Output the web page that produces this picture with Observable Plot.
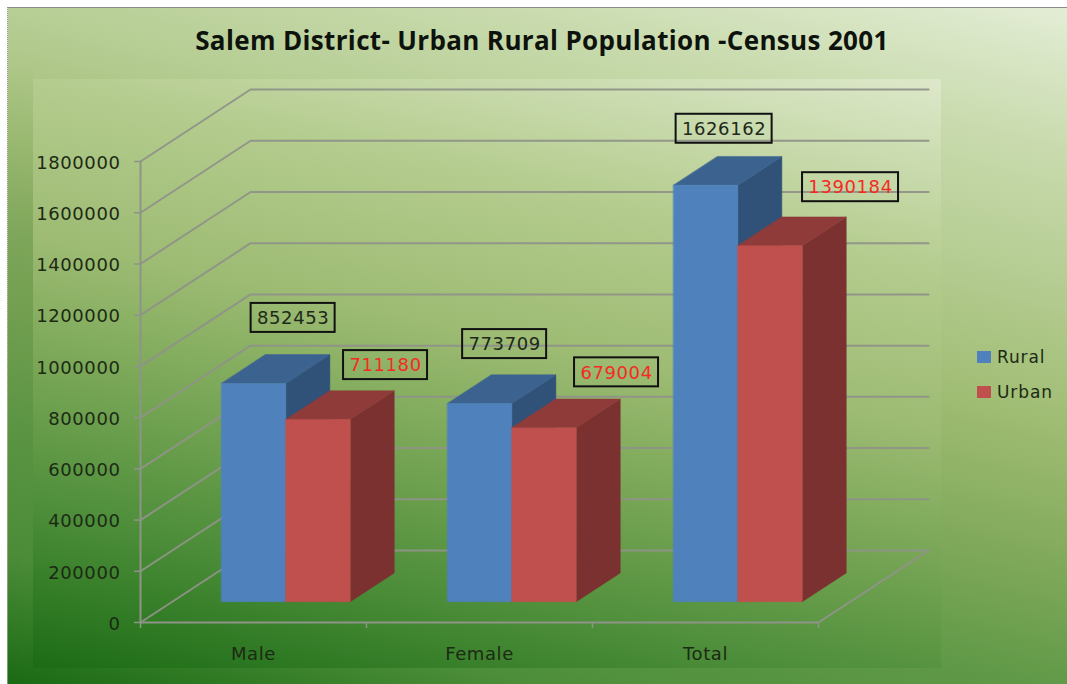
<!DOCTYPE html>
<html>
<head>
<meta charset="utf-8">
<script src="https://cdn.jsdelivr.net/npm/d3@7"></script>
<script src="https://cdn.jsdelivr.net/npm/@observablehq/plot@0.6"></script>
<style>
  html, body { margin: 0; padding: 0; background: #fff; }
  #stage { position: relative; width: 1067px; height: 684px; overflow: hidden; background: #fff; font-family: "DejaVu Sans", sans-serif; }
  #bg { position: absolute; left: 7px; top: 7px; right: 0; bottom: 0; border-left: 1px dotted #999; border-top: 1px solid #8a8a8a;
        background: linear-gradient(14deg, #1a6a13 0%, #4d8e3a 14%, #619a48 28%, #7fa85a 40%, #a0bd74 56%, #b7ce95 72%, #c9dbae 85%, #e3edd5 100%); }
  #strip { position: absolute; left: 8px; top: 8px; width: 25px; height: 676px;
        background: linear-gradient(180deg, rgba(60,120,40,0) 8%, rgba(60,120,40,.22) 35%, rgba(60,120,40,.12) 75%, rgba(60,120,40,0) 100%); }
  #inner { position: absolute; left: 33px; top: 79px; width: 908px; height: 589px;
        background: linear-gradient(12deg, #1c6c15 0%, #4c8d39 20%, #7ba858 40%, #9dbb73 55%, #b4cc8e 75%, #dde8ca 100%); }
  #title { position: absolute; left: 0; width: 1084px; top: 23px; text-align: center; font: 700 26px "Open Sans", sans-serif; letter-spacing: .35px; color: #0e120c; line-height: 34px; white-space: nowrap; }
  #plot { position: absolute; left: 0; top: 0; }
  #legend { position: absolute; left: 977px; top: 346px; font-size: 17px; letter-spacing: .9px; color: #1c2a14; }
  #legend div { height: 35px; line-height: 22px; white-space: nowrap; }
  #legend i { display: inline-block; width: 14px; height: 12px; margin-right: 6px; }
</style>
</head>
<body>
<div id="stage">
  <div id="bg"></div>
  <div id="strip"></div>
  <div id="inner"></div>
  <div id="plot"></div>
  <div id="title">Salem District- Urban Rural Population -Census 2001</div>
  <div id="legend"></div>
</div>
<script>
const categories = ["Male", "Female", "Total"];
const rural = [852453, 773709, 1626162];
const urban = [711180, 679004, 1390184];
const yTicks = [0, 200000, 400000, 600000, 800000, 1000000, 1200000, 1400000, 1600000, 1800000];
const seriesNames = ["Rural", "Urban"];

// Colours of each series: front, top, side
const ruralColors = ["#4f81bd", "#3c6390", "#305279"];
const urbanColors = ["#c0504d", "#8f3b39", "#7a3130"];
const gridColor = "#8f9488";
const axisTextColor = "#1c2a14";

// Oblique projection of the 3-D box, expressed in scale units
const wallX = 0.487;          // x units that a full depth shifts
const wallY = 281000;         // y units that a full depth shifts
const barFront = 0.29;        // depth of a bar's front face
const barDepth = 0.40;        // depth of a bar
const barWidth = 0.285;       // width of a bar in x units
const barShift = 0.004;       // small shift of each bar pair
const P = (x, v, d) => ({ x: x + d * wallX, y: v + d * wallY });

// Offsets of the value boxes from the top of their bar (pixels)
const ruralDx = [17, 2.5, -4], ruralDy = [-51, -45, -42];
const urbanDx = [45, 50, 58], urbanDy = [-40, -41, -44];

function quad(a, b, c, d, fill) {
  return Plot.area([
    { x1: a.x, y1: a.y, x2: d.x, y2: d.y },
    { x1: b.x, y1: b.y, x2: c.x, y2: c.y }
  ], { x1: "x1", y1: "y1", x2: "x2", y2: "y2", fill, stroke: fill, strokeWidth: 0.5, dy: 0.6 });
}

function bar(x0, x1, v, colors) {
  const d0 = barFront, d1 = barFront + barDepth;
  return [
    quad(P(x1, 0, d0), P(x1, 0, d1), P(x1, v, d1), P(x1, v, d0), colors[2]),
    quad(P(x0, v, d0), P(x1, v, d0), P(x1, v, d1), P(x0, v, d1), colors[1]),
    quad(P(x0, 0, d0), P(x1, 0, d0), P(x1, v, d0), P(x0, v, d0), colors[0])
  ];
}

const bars = categories.flatMap((c, i) => {
  const m = i + 0.5 + barShift;
  return [...bar(m - barWidth, m, rural[i], ruralColors), ...bar(m, m + barWidth, urban[i], urbanColors)];
});

const gridLines = yTicks.map(v => Plot.line(
  [P(0, v, 0), P(0, v, 1), P(3, v, 1)],
  { x: "x", y: "y", stroke: gridColor, strokeWidth: 2, strokeOpacity: 0.95 }
));
const floor = Plot.line([P(0, 0, 0), P(3, 0, 0), P(3, 0, 1)], { x: "x", y: "y", stroke: gridColor, strokeWidth: 2 });
const wallEdge = Plot.line([P(0, 0, 0), P(0, 1800000, 0)], { x: "x", y: "y", stroke: gridColor, strokeWidth: 2 });

function labelMarks(x, v, dx, dy, color) {
  const text = String(v);
  const halfW = text.length * 12 / 2 + 6;
  const a = P(x, v, barFront + barDepth / 2);
  return [
    Plot.rect([a], { x1: "x", x2: "x", y1: "y", y2: "y", insetLeft: -halfW, insetRight: -halfW, insetTop: -14.5, insetBottom: -14.5,
      dx, dy, stroke: "#111", strokeWidth: 2, fill: "none" }),
    Plot.text([a], { x: "x", y: "y", text: () => text, dx, dy: dy + 0.5, fill: color, fontSize: 18 })
  ];
}

const labels = categories.flatMap((c, i) => {
  const m = i + 0.5 + barShift;
  return [
    ...labelMarks(m - barWidth / 2, rural[i], ruralDx[i], ruralDy[i], "#20281a"),
    ...labelMarks(m + barWidth / 2, urban[i], urbanDx[i], urbanDy[i], "#f52a22")
  ];
});

const chart = Plot.plot({
  width: 1067,
  height: 684,
  marginTop: 161,
  marginBottom: 62,
  marginLeft: 140,
  marginRight: 249,
  style: { background: "transparent", fontFamily: "'DejaVu Sans', sans-serif", letterSpacing: "0.6px", overflow: "visible" },
  x: { type: "linear", domain: [0, 3] },
  y: { domain: [0, 1800000] },
  marks: [
    ...gridLines,
    floor,
    wallEdge,
    Plot.axisY({ ticks: yTicks, tickSize: 6, tickFormat: () => "", stroke: gridColor, label: null, strokeWidth: 1.5 }),
    Plot.axisY({ ticks: yTicks, tickSize: 0, tickPadding: 20, dy: 1.5, tickFormat: d3.format("d"), fill: axisTextColor, fontSize: 18, label: null }),
    Plot.axisX({ ticks: [0, 1, 2, 3], tickSize: 6, tickFormat: () => "", stroke: gridColor, label: null, strokeWidth: 1.5 }),
    Plot.axisX({ ticks: [0.5, 1.5, 2.5], tickSize: 0, tickPadding: 25, tickFormat: d => categories[d - 0.5], fill: axisTextColor, fontSize: 18, label: null }),
    ...bars,
    ...labels
  ]
});
document.getElementById("plot").appendChild(chart);

document.getElementById("legend").innerHTML = seriesNames.map((n, i) =>
  `<div><i style="background:${[ruralColors, urbanColors][i][0]}"></i>${n}</div>`).join("");
</script>
</body>
</html>
